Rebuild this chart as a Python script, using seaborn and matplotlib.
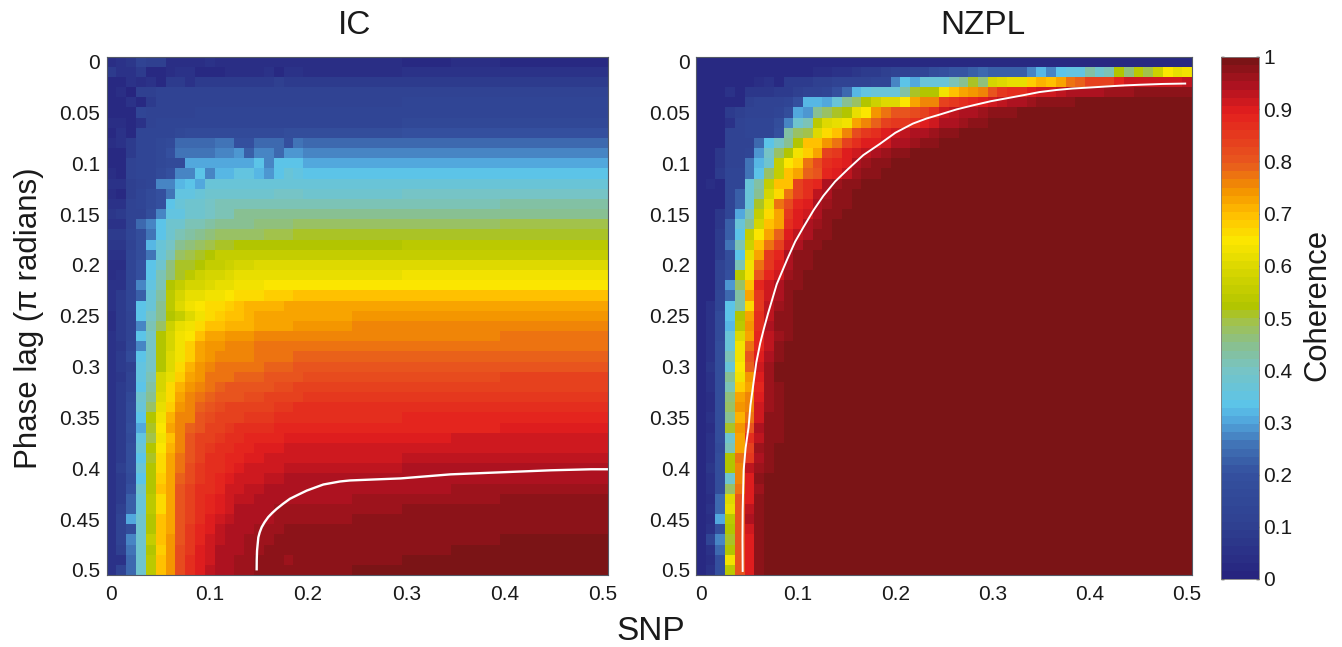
import numpy as np
import pandas as pd
import seaborn as sns
import matplotlib.pyplot as plt
from matplotlib.colors import LinearSegmentedColormap

# values are coherence in percent
snp_ticks = ["0", "0.1", "0.2", "0.3", "0.4", "0.5"]
lag_ticks = ["0", "0.05", "0.1", "0.15", "0.2", "0.25", "0.3", "0.35", "0.4", "0.45", "0.5"]
cbar_ticks = [0, 0.1, 0.2, 0.3, 0.4, 0.5, 0.6, 0.7, 0.8, 0.9, 1]
cbar_labels = ["0", "0.1", "0.2", "0.3", "0.4", "0.5", "0.6", "0.7", "0.8", "0.9", "1"]

# IC: first 20 columns one by one
ic_left = [
    [4, 5, 7, 11, 10, 10, 4, 4, 4, 4, 6, 4, 4, 4, 4, 4, 4, 4, 4, 4],
    [8, 6, 6, 8, 3, 3, 4, 5, 5, 3, 2, 3, 4, 4, 4, 4, 5, 3, 6, 6],
    [3, 3, 5, 4, 5, 2, 9, 9, 6, 8, 8, 8, 9, 9, 9, 9, 8, 10, 9, 9],
    [3, 4, 1, 10, 10, 11, 11, 11, 11, 11, 11, 12, 12, 12, 12, 11, 11, 11, 11, 12],
    [2, 3, 5, 2, 9, 11, 11, 12, 12, 12, 12, 12, 12, 12, 12, 12, 12, 12, 12, 12],
    [3, 3, 2, 13, 12, 12, 12, 12, 12, 13, 13, 13, 13, 13, 13, 13, 13, 13, 13, 13],
    [4, 4, 2, 5, 12, 13, 13, 13, 13, 13, 14, 14, 14, 14, 14, 14, 14, 14, 14, 14],
    [2, 5, 2, 13, 14, 14, 14, 15, 17, 17, 17, 16, 16, 17, 16, 17, 17, 17, 18, 18],
    [4, 5, 8, 14, 14, 15, 16, 24, 24, 24, 24, 26, 26, 20, 20, 24, 24, 24, 20, 25],
    [2, 2, 9, 13, 13, 15, 20, 26, 26, 26, 26, 27, 27, 29, 23, 28, 28, 24, 29, 29],
    [3, 3, 12, 13, 13, 15, 17, 17, 30, 30, 30, 31, 31, 31, 31, 34, 27, 33, 33, 33],
    [4, 3, 11, 13, 13, 16, 19, 27, 27, 34, 27, 32, 32, 35, 35, 32, 29, 34, 36, 35],
    [5, 6, 10, 12, 13, 27, 27, 32, 34, 30, 37, 37, 37, 37, 36, 36, 37, 37, 37, 37],
    [4, 2, 10, 13, 17, 20, 26, 35, 35, 37, 38, 38, 39, 39, 39, 39, 39, 40, 40, 40],
    [6, 6, 11, 13, 17, 20, 34, 36, 38, 39, 40, 41, 41, 41, 42, 42, 42, 42, 42, 42],
    [7, 8, 12, 12, 18, 27, 35, 35, 38, 39, 40, 41, 42, 44, 44, 44, 44, 44, 45, 45],
    [5, 5, 11, 24, 28, 33, 38, 38, 41, 42, 43, 44, 45, 45, 45, 46, 46, 46, 46, 47],
    [9, 9, 13, 18, 26, 34, 38, 41, 43, 44, 46, 47, 47, 48, 48, 48, 49, 49, 49, 50],
    [7, 7, 12, 18, 32, 37, 40, 44, 46, 47, 49, 50, 51, 52, 52, 53, 53, 53, 53, 53],
    [6, 6, 13, 18, 25, 36, 42, 47, 49, 51, 53, 55, 55, 55, 55, 55, 55, 55, 55, 55],
    [4, 4, 13, 19, 33, 38, 46, 50, 51, 53, 55, 56, 57, 58, 59, 60, 60, 60, 60, 60],
    [4, 6, 13, 19, 33, 42, 46, 50, 54, 57, 58, 59, 60, 61, 61, 62, 61, 62, 62, 62],
    [5, 6, 13, 28, 35, 42, 52, 55, 58, 59, 60, 62, 62, 63, 64, 64, 65, 65, 65, 65],
    [5, 8, 14, 22, 37, 43, 54, 58, 61, 62, 63, 64, 65, 66, 66, 67, 68, 68, 68, 69],
    [5, 8, 14, 33, 37, 44, 54, 60, 63, 65, 67, 67, 68, 70, 71, 71, 71, 71, 72, 72],
    [4, 8, 12, 33, 40, 45, 52, 56, 60, 64, 67, 68, 69, 69, 71, 72, 72, 72, 73, 73],
    [4, 8, 12, 28, 41, 48, 57, 61, 64, 66, 69, 70, 71, 71, 71, 72, 72, 73, 73, 74],
    [5, 8, 12, 33, 40, 52, 59, 63, 65, 70, 72, 73, 74, 74, 74, 75, 75, 75, 75, 76],
    [5, 7, 14, 28, 40, 52, 58, 63, 68, 72, 74, 74, 75, 76, 76, 77, 77, 77, 78, 78],
    [5, 8, 17, 33, 40, 52, 60, 63, 68, 72, 74, 75, 76, 76, 76, 77, 78, 78, 78, 79],
    [5, 8, 10, 35, 40, 53, 60, 66, 71, 74, 76, 77, 77, 78, 78, 78, 79, 79, 79, 80],
    [5, 7, 12, 35, 42, 58, 62, 68, 72, 74, 77, 78, 78, 79, 79, 79, 80, 80, 81, 81],
    [5, 8, 12, 33, 43, 58, 66, 71, 74, 76, 78, 79, 80, 80, 81, 81, 81, 82, 82, 83],
    [5, 8, 15, 38, 45, 60, 66, 73, 75, 77, 79, 80, 81, 81, 82, 82, 83, 83, 84, 84],
    [5, 9, 16, 36, 48, 62, 68, 74, 75, 79, 81, 82, 83, 83, 84, 84, 84, 85, 85, 86],
    [5, 9, 17, 34, 52, 63, 71, 75, 76, 80, 82, 83, 84, 84, 85, 85, 85, 86, 86, 87],
    [5, 9, 18, 31, 50, 65, 72, 76, 79, 81, 83, 84, 85, 86, 86, 87, 87, 88, 88, 88],
    [6, 9, 17, 35, 49, 64, 70, 76, 80, 83, 84, 85, 87, 87, 88, 88, 89, 89, 90, 90],
    [6, 8, 18, 36, 53, 65, 71, 76, 81, 84, 85, 86, 87, 88, 89, 90, 90, 90, 91, 91],
    [6, 9, 18, 34, 50, 66, 72, 78, 81, 84, 86, 87, 88, 89, 90, 90, 91, 91, 92, 92],
    [6, 10, 18, 36, 52, 67, 72, 78, 82, 85, 86, 87, 89, 90, 91, 91, 92, 92, 93, 93],
    [5, 9, 17, 33, 52, 68, 73, 79, 82, 85, 87, 88, 90, 91, 92, 92, 93, 93, 94, 94],
    [5, 8, 19, 38, 53, 69, 73, 80, 83, 86, 87, 89, 91, 92, 93, 93, 94, 94, 95, 95],
    [5, 9, 22, 37, 54, 67, 72, 80, 83, 86, 88, 90, 92, 93, 93, 94, 94, 95, 95, 95],
    [5, 10, 22, 37, 54, 67, 72, 80, 83, 86, 88, 90, 92, 94, 94, 95, 95, 96, 96, 96],
    [6, 11, 30, 38, 53, 69, 73, 80, 84, 87, 90, 92, 93, 94, 95, 95, 95, 96, 96, 96],
    [6, 11, 18, 38, 53, 69, 73, 81, 85, 88, 90, 93, 94, 95, 95, 96, 96, 96, 97, 97],
    [6, 11, 27, 38, 55, 69, 74, 81, 85, 89, 91, 93, 94, 95, 96, 96, 96, 97, 97, 97],
    [6, 10, 25, 39, 52, 68, 74, 82, 85, 90, 92, 94, 94, 95, 96, 96, 97, 97, 97, 98],
    [5, 5, 24, 39, 54, 69, 74, 82, 86, 90, 92, 94, 95, 96, 96, 97, 97, 97, 96, 98],
    [6, 12, 24, 39, 54, 69, 74, 82, 86, 90, 93, 95, 95, 96, 96, 97, 97, 97, 98, 98],
]

# IC: the flat part further right, six blocks of columns
ic_right = [
    [4, 4, 3, 4, 3, 3],
    [4, 4, 5, 5, 5, 5],
    [9, 9, 9, 9, 9, 8],
    [12, 12, 12, 12, 12, 12],
    [12, 12, 13, 13, 13, 13],
    [13, 13, 13, 13, 13, 13],
    [14, 14, 15, 15, 15, 15],
    [18, 18, 19, 19, 20, 20],
    [24, 24, 24, 24, 24, 24],
    [28, 28, 28, 28, 28, 28],
    [31, 31, 31, 31, 31, 31],
    [34, 34, 34, 34, 34, 34],
    [37, 37, 37, 37, 37, 37],
    [39, 39, 40, 40, 40, 40],
    [42, 42, 42, 42, 43, 43],
    [45, 45, 45, 45, 45, 45],
    [47, 48, 48, 48, 49, 49],
    [50, 51, 51, 51, 51, 51],
    [53, 53, 54, 54, 54, 54],
    [55, 55, 56, 56, 56, 56],
    [60, 60, 60, 60, 60, 60],
    [62, 62, 63, 63, 63, 63],
    [65, 65, 65, 65, 65, 65],
    [69, 69, 69, 69, 69, 69],
    [72, 72, 72, 73, 73, 73],
    [73, 74, 74, 74, 74, 74],
    [74, 75, 75, 75, 75, 75],
    [76, 76, 76, 76, 77, 77],
    [78, 78, 78, 78, 78, 78],
    [79, 79, 79, 79, 79, 79],
    [80, 80, 81, 81, 81, 81],
    [82, 82, 82, 82, 83, 83],
    [83, 84, 84, 84, 84, 84],
    [85, 85, 85, 85, 85, 85],
    [86, 86, 87, 87, 87, 87],
    [87, 87, 88, 88, 88, 89],
    [89, 89, 89, 89, 90, 90],
    [90, 90, 90, 91, 91, 91],
    [91, 91, 92, 92, 92, 92],
    [92, 92, 93, 93, 93, 93],
    [93, 93, 94, 94, 94, 94],
    [94, 94, 95, 95, 95, 95],
    [95, 95, 95, 96, 96, 96],
    [95, 96, 96, 96, 97, 97],
    [96, 96, 97, 97, 97, 97],
    [96, 97, 97, 97, 98, 98],
    [97, 97, 98, 98, 98, 98],
    [97, 98, 98, 98, 99, 99],
    [98, 98, 98, 99, 99, 99],
    [98, 98, 99, 99, 99, 99],
    [98, 99, 99, 99, 100, 100],
]
ic_block_widths = [5, 5, 5, 5, 5, 6]

# NZPL: columns up to where the row saturates, everything after is 100
nzpl_rows = [
    [2] * 51,
    [2, 2, 2, 2, 2, 2, 2, 2, 2, 2, 2, 2, 4, 4, 5, 6, 7, 8, 9, 10, 11, 12, 13, 14, 18, 20, 21, 21, 22, 24, 22, 22, 22, 23, 28, 32, 27, 34, 35, 35, 43, 38, 42, 52, 46, 54, 49, 57, 65, 61, 63],
    [2, 2, 2, 2, 2, 2, 4, 5, 3, 8, 9, 9, 10, 10, 11, 11, 12, 12, 13, 14, 27, 33, 30, 36, 36, 36, 42, 44, 50, 46, 58, 60, 61, 62, 68, 71, 70, 73, 78, 79, 83, 83, 84, 88, 91, 91, 91, 92, 92, 92, 93],
    [2, 2, 2, 5, 3, 7, 7, 7, 8, 9, 10, 11, 12, 14, 20, 24, 32, 35, 36, 36, 37, 43, 50, 53, 53, 63, 70, 72, 74, 75, 80, 85, 86, 87, 90, 92, 92, 93, 94, 94, 95, 95, 96, 96, 96, 97, 97, 97, 97, 97, 97],
    [2, 2, 2, 3, 3, 10, 11, 12, 12, 13, 20, 32, 32, 31, 37, 44, 48, 52, 57, 60, 60, 65, 72, 75, 76, 83, 85, 87, 88, 90, 92, 93, 94, 95, 96, 97, 97, 98, 98, 99, 99],
    [2, 2, 2, 9, 10, 11, 12, 12, 13, 18, 30, 29, 45, 48, 50, 52, 62, 65, 74, 78, 80, 81, 82, 84, 87, 92, 93, 94, 95, 96, 97, 98, 98, 99, 99],
    [2, 2, 2, 5, 11, 13, 13, 13, 18, 27, 39, 42, 54, 60, 62, 63, 72, 76, 79, 83, 85, 85, 87, 90, 92, 94, 95, 96, 97, 98, 99],
    [2, 2, 2, 11, 12, 14, 14, 14, 20, 43, 47, 49, 60, 67, 70, 75, 82, 85, 87, 90, 92, 93, 94, 95, 96, 97, 98, 99],
    [2, 2, 2, 12, 12, 12, 24, 33, 40, 44, 53, 70, 70, 74, 78, 83, 86, 90, 90, 92, 94, 95, 96, 97, 98, 99],
    [2, 2, 7, 12, 12, 14, 29, 40, 47, 53, 64, 68, 72, 84, 85, 90, 92, 93, 95, 96, 97, 98, 99],
    [2, 2, 7, 12, 12, 25, 32, 38, 55, 65, 68, 78, 82, 86, 88, 90, 95, 96, 97, 98, 99],
    [2, 2, 8, 13, 13, 26, 33, 47, 56, 70, 73, 79, 80, 88, 90, 93, 96, 97, 98, 99],
    [2, 4, 3, 13, 13, 37, 43, 55, 69, 70, 83, 86, 88, 95, 96, 97, 98, 99],
    [2, 2, 3, 13, 22, 36, 44, 58, 67, 78, 84, 87, 93, 95, 97, 98, 99],
    [2, 2, 3, 13, 22, 37, 50, 62, 78, 82, 88, 90, 94, 96, 97, 98, 99],
    [2, 2, 7, 13, 30, 42, 55, 66, 73, 85, 90, 92, 95, 97, 98, 99],
    [2, 2, 7, 22, 37, 45, 58, 69, 72, 86, 90, 94, 96, 98, 99],
    [2, 2, 8, 23, 33, 55, 65, 72, 79, 90, 93, 95, 97, 98, 99],
    [2, 2, 8, 25, 41, 57, 70, 78, 83, 92, 95, 97, 98, 99],
    [2, 2, 9, 18, 33, 62, 73, 85, 89, 95, 97, 98, 99],
    [2, 2, 11, 18, 41, 63, 77, 85, 90, 95, 97, 98, 99],
    [2, 2, 12, 19, 54, 63, 80, 88, 92, 96, 98, 99],
    [2, 2, 12, 29, 47, 69, 88, 92, 94, 97, 98, 99],
    [2, 2, 13, 24, 43, 72, 85, 92, 95, 98, 99],
    [2, 5, 13, 33, 43, 67, 85, 93, 96, 98, 99],
    [3, 5, 17, 33, 53, 72, 86, 93, 97, 98, 99],
    [3, 5, 17, 32, 54, 74, 86, 94, 97, 98, 99],
    [3, 5, 17, 37, 60, 73, 88, 93, 96, 98, 99],
    [3, 6, 18, 37, 63, 78, 88, 93, 97, 99],
    [3, 6, 18, 42, 64, 80, 90, 95, 98, 99],
    [3, 7, 18, 37, 65, 79, 91, 96, 99],
    [3, 6, 18, 44, 64, 74, 90, 96, 99],
    [3, 5, 18, 42, 68, 72, 88, 96, 97, 99],
    [3, 4, 18, 46, 72, 76, 90, 96, 97, 99],
    [3, 4, 18, 47, 74, 76, 91, 96, 98, 99],
    [3, 6, 18, 45, 71, 77, 92, 97, 98, 99],
    [3, 4, 18, 50, 74, 80, 94, 97, 98, 99],
    [3, 5, 18, 38, 73, 86, 93, 97, 98, 99],
    [3, 5, 17, 42, 73, 84, 96, 98, 99],
    [3, 5, 18, 52, 78, 85, 94, 97, 99],
    [3, 7, 18, 53, 75, 93, 96, 98, 99],
    [3, 6, 18, 38, 76, 90, 97, 99],
    [3, 5, 18, 47, 77, 90, 96, 99],
    [2, 4, 24, 60, 80, 90, 98, 99],
    [3, 5, 24, 61, 80, 93, 98, 99],
    [3, 4, 30, 54, 80, 95, 98, 99],
    [3, 5, 20, 53, 80, 92, 97, 99],
    [3, 14, 27, 50, 80, 90, 97, 99],
    [3, 5, 24, 53, 80, 90, 97, 99],
    [3, 4, 20, 64, 80, 90, 97, 99],
    [3, 5, 20, 54, 80, 90, 98, 99],
]

# white lines (SNP, phase lag)
ic_line_snp = [0.1477, 0.1478, 0.1481, 0.1494, 0.1508, 0.1528, 0.1558, 0.1595, 0.1635, 0.168, 0.1745, 0.1816, 0.190, 0.1986, 0.207, 0.2155, 0.2325, 0.2426, 0.268, 0.294, 0.345, 0.396, 0.447, 0.488, 0.505]
ic_line_lag = [0.5005, 0.490, 0.481, 0.468, 0.463, 0.458, 0.453, 0.448, 0.444, 0.440, 0.435, 0.430, 0.426, 0.422, 0.419, 0.416, 0.413, 0.412, 0.411, 0.410, 0.406, 0.404, 0.402, 0.401, 0.401]
nzpl_line_snp = [0.043, 0.0428, 0.043, 0.0435, 0.044, 0.046, 0.049, 0.051, 0.054, 0.057, 0.061, 0.065, 0.069, 0.078, 0.089, 0.097, 0.106, 0.116, 0.126, 0.138, 0.151, 0.167, 0.184, 0.200, 0.218, 0.232, 0.246, 0.263, 0.280, 0.298, 0.315, 0.332, 0.348, 0.365, 0.382, 0.400, 0.417, 0.434, 0.451, 0.475, 0.499]
nzpl_line_lag = [0.502, 0.470, 0.441, 0.420, 0.402, 0.380, 0.360, 0.338, 0.317, 0.296, 0.277, 0.262, 0.248, 0.219, 0.194, 0.177, 0.162, 0.146, 0.132, 0.118, 0.106, 0.092, 0.081, 0.070, 0.061, 0.056, 0.052, 0.047, 0.043, 0.039, 0.036, 0.033, 0.030, 0.028, 0.0265, 0.0255, 0.0245, 0.0235, 0.0228, 0.022, 0.0216]

# colour stops
cmap_stops = [
    (0.00, "#27257f"), (0.10, "#2f4191"), (0.20, "#34519f"), (0.25, "#4070b4"),
    (0.30, "#52a6dc"), (0.33, "#5bc4ea"), (0.40, "#77c4c4"), (0.45, "#8abf8c"),
    (0.50, "#a6c23f"), (0.52, "#b0c400"), (0.60, "#dcd800"), (0.65, "#fbe700"),
    (0.70, "#ffc000"), (0.75, "#f39200"), (0.80, "#e85a1e"), (0.90, "#e31e1e"),
    (0.95, "#b01220"), (1.00, "#7b1416"),
]
coherence = LinearSegmentedColormap.from_list("coherence", cmap_stops, N=64)

sns.set_theme(style="white")
plt.rcParams["font.family"] = ["Liberation Sans", "DejaVu Sans"]

font_size = 15
text_color = "#1a1a1a"

ic = np.hstack([np.array(ic_left), np.repeat(np.array(ic_right), ic_block_widths, axis=1)]) / 100
nzpl = np.array([row + [100] * (51 - len(row)) for row in nzpl_rows]) / 100
snp_values = [f"{i / 100:.2f}" for i in range(51)]
df_ic = pd.DataFrame(ic, columns=snp_values)
df_nzpl = pd.DataFrame(nzpl, columns=snp_values)

w, h = 1342, 647
fig = plt.figure(figsize=(w / 100, h / 100), dpi=100)


def box(left, top, right, bottom):
    return [left / w, 1 - bottom / h, (right - left) / w, (bottom - top) / h]


ax_ic = fig.add_axes(box(106.5, 56.5, 608, 575))
ax_nzpl = fig.add_axes(box(696, 56.5, 1192, 575))
cax = fig.add_axes(box(1221, 57, 1259, 579))

sns.heatmap(df_ic, ax=ax_ic, cmap=coherence, vmin=0, vmax=1, cbar=False, xticklabels=False, yticklabels=False)
sns.heatmap(df_nzpl, ax=ax_nzpl, cmap=coherence, vmin=0, vmax=1, cbar_ax=cax, xticklabels=False, yticklabels=False)

panels = [(ax_ic, ic_line_snp, ic_line_lag, 1.7), (ax_nzpl, nzpl_line_snp, nzpl_line_lag, 1.4)]
for ax, line_x, line_y, line_w in panels:
    ax.plot(np.array(line_x) * 100 + 0.5, np.array(line_y) * 100 + 0.5, color="white", lw=line_w, solid_capstyle="butt")
    ax.set_xticks([i * 10 + 0.5 for i in range(6)])
    ax.set_xticklabels(snp_ticks, rotation=0, fontsize=font_size, color=text_color)
    ax.set_yticks([i * 5 + 0.5 for i in range(11)])
    ax.set_yticklabels(lag_ticks, rotation=0, fontsize=font_size, color=text_color)
    ax.tick_params(direction="in", length=2.5, width=1, color="black", top=True, right=True, bottom=True, left=True)
    ax.tick_params(axis="x", pad=7)
    ax.tick_params(axis="y", pad=4.5)
    ax.set_xlabel("")
    ax.set_ylabel("")
    for spine in ax.spines.values():
        spine.set_visible(True)
        spine.set_color("#555a66")
        spine.set_linewidth(0.8)

cbar = ax_nzpl.collections[0].colorbar
cbar.set_ticks(cbar_ticks)
cbar.set_ticklabels(cbar_labels)
cax.tick_params(direction="in", length=2.5, width=1, color="black", left=True, right=True, labelsize=font_size, pad=3, labelcolor=text_color)
cbar.outline.set_visible(True)
cbar.outline.set_edgecolor("#808080")
cbar.outline.set_linewidth(0.6)

fig.text(355 / w, 1 - 26 / h, "IC", fontsize=24, ha="center", va="center", color=text_color)
fig.text(983 / w, 1 - 26 / h, "NZPL", fontsize=24, ha="center", va="center", color=text_color)
fig.text(651 / w, 1 - 631.5 / h, "SNP", fontsize=24, ha="center", va="center", color=text_color)
fig.text(29 / w, 1 - 318.5 / h, "Phase lag (π radians)", fontsize=22.5, rotation=90, ha="center", va="center", color=text_color)
fig.text(1317.5 / w, 1 - 305 / h, "Coherence", fontsize=22.3, rotation=90, ha="center", va="center", color=text_color)

fig.savefig("out.png", dpi=100)
plt.close(fig)
